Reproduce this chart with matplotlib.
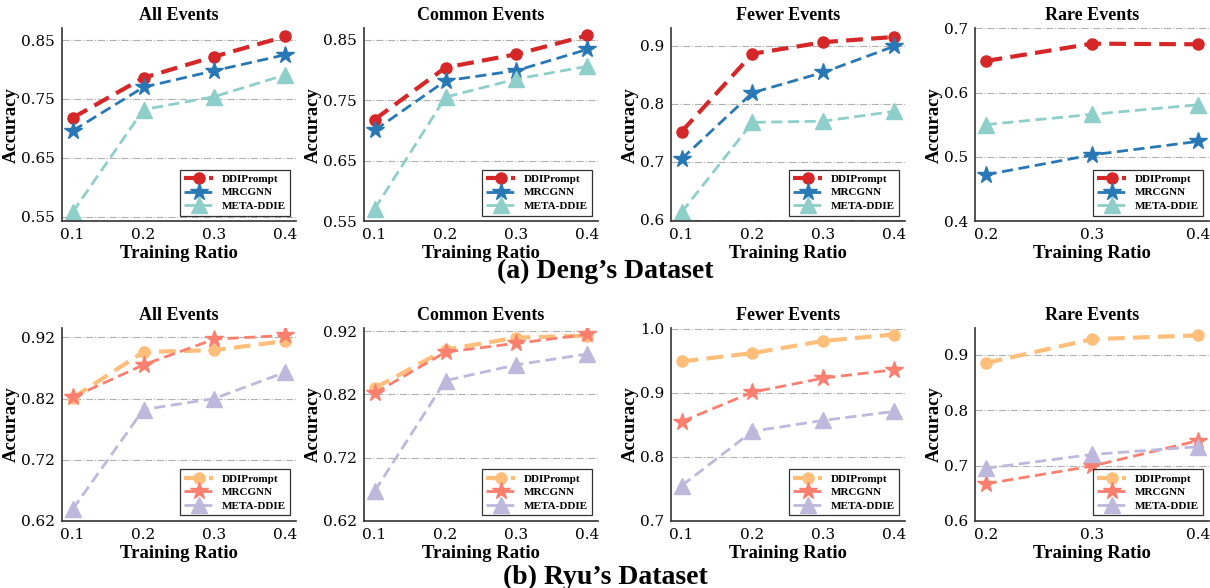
import matplotlib
matplotlib.use("Agg")
import matplotlib.pyplot as plt

# datos
ratios = [0.1, 0.2, 0.3, 0.4]
ratios_rare = [0.2, 0.3, 0.4]
titles = ["All Events", "Common Events", "Fewer Events", "Rare Events"]
methods = ["DDIPrompt", "MRCGNN", "META-DDIE"]

# Deng's dataset
deng_ddiprompt = [[0.718, 0.786, 0.822, 0.856],
                  [0.718, 0.804, 0.826, 0.857],
                  [0.752, 0.886, 0.906, 0.915],
                  [0.649, 0.676, 0.675]]
deng_mrcgnn = [[0.696, 0.770, 0.798, 0.825],
               [0.700, 0.782, 0.799, 0.834],
               [0.705, 0.819, 0.854, 0.899],
               [0.472, 0.503, 0.524]]
deng_meta = [[0.558, 0.732, 0.754, 0.791],
             [0.570, 0.755, 0.785, 0.806],
             [0.613, 0.768, 0.770, 0.787],
             [0.550, 0.566, 0.581]]

# Ryu's dataset
ryu_ddiprompt = [[0.821, 0.896, 0.899, 0.914],
                 [0.830, 0.891, 0.910, 0.913],
                 [0.949, 0.962, 0.981, 0.991],
                 [0.885, 0.928, 0.935]]
ryu_mrcgnn = [[0.822, 0.875, 0.917, 0.923],
              [0.822, 0.887, 0.901, 0.915],
              [0.855, 0.901, 0.923, 0.936],
              [0.667, 0.699, 0.745]]
ryu_meta = [[0.639, 0.802, 0.820, 0.863],
            [0.667, 0.842, 0.867, 0.884],
            [0.755, 0.840, 0.857, 0.871],
            [0.695, 0.720, 0.734]]

deng_yticks = [[0.55, 0.65, 0.75, 0.85], [0.55, 0.65, 0.75, 0.85],
               [0.6, 0.7, 0.8, 0.9], [0.4, 0.5, 0.6, 0.7]]
ryu_yticks = [[0.62, 0.72, 0.82, 0.92], [0.62, 0.72, 0.82, 0.92],
              [0.7, 0.8, 0.9, 1.0], [0.6, 0.7, 0.8, 0.9]]
deng_ylim = [(0.543, 0.870), (0.55, 0.869), (0.598, 0.930), (0.4, 0.7)]
ryu_ylim = [(0.62, 0.935), (0.62, 0.925), (0.7, 1.001), (0.6, 0.948)]

deng_colors = ["#D62728", "#2878B5", "#8ECFC9"]
ryu_colors = ["#FFBE7A", "#FA7F6F", "#BEB8DC"]

plt.rcParams['font.family'] = ['Liberation Serif', 'DejaVu Serif']

fig = plt.figure(figsize=(12.1, 5.88), dpi=100)

lefts = [0.0512, 0.3008, 0.5545, 0.8058]
width = 0.1934
row_bottoms = [0.624, 0.114]
height = 0.328


def panel(ax, i, ddi, mrc, meta, colors, yticks, ylim, xs):
    ax.plot(xs, ddi, color=colors[0], linestyle=(0, (4, 2)), lw=3,
            marker="o", markersize=8, label=methods[0])
    ax.plot(xs, mrc, color=colors[1], linestyle=(0, (4, 2)), lw=2,
            marker="*", markersize=13, label=methods[1])
    ax.plot(xs, meta, color=colors[2], linestyle=(0, (4, 2)), lw=2,
            marker="^", markersize=11, label=methods[2])
    ax.set_ylim(*ylim)
    ax.set_yticks(yticks)
    ax.set_yticklabels(["%g" % t if len(str(t)) > 3 else "%.1f" % t for t in yticks])
    ax.set_xticks(xs)
    ax.set_xticklabels(["%.1f" % x for x in xs])
    if len(xs) == 4:
        ax.set_xlim(0.085, 0.415)
    else:
        ax.set_xlim(0.19, 0.41)
    ax.grid(axis="y", linestyle="-.", color="#b0b0b0", lw=0.8)
    ax.set_axisbelow(True)
    for s in ["top", "right"]:
        ax.spines[s].set_visible(False)
    for s in ["left", "bottom"]:
        ax.spines[s].set_color("#333333")
        ax.spines[s].set_linewidth(1.2)
    ax.tick_params(length=0, pad=5)
    for lab in ax.get_xticklabels() + ax.get_yticklabels():
        lab.set_fontfamily("DejaVu Serif")
        lab.set_fontsize(11)
    ax.set_title(titles[i], fontsize=13, fontweight="bold", pad=6)
    ax.set_xlabel("Training Ratio", fontsize=13.5, fontweight="bold", labelpad=2)
    ax.set_ylabel("Accuracy", fontsize=13.5, fontweight="bold", labelpad=1)
    leg = ax.legend(loc="lower right", prop={"weight": "bold", "size": 8},
                    frameon=True, fancybox=False, edgecolor="black",
                    handlelength=2.6, borderpad=0.4, labelspacing=0.35)
    leg.get_frame().set_linewidth(0.9)


for i in range(4):
    xs = ratios if i < 3 else ratios_rare
    ax = fig.add_axes([lefts[i], row_bottoms[0], width, height])
    panel(ax, i, deng_ddiprompt[i], deng_mrcgnn[i], deng_meta[i],
          deng_colors, deng_yticks[i], deng_ylim[i], xs)
    ax2 = fig.add_axes([lefts[i], row_bottoms[1], width, height])
    panel(ax2, i, ryu_ddiprompt[i], ryu_mrcgnn[i], ryu_meta[i],
          ryu_colors, ryu_yticks[i], ryu_ylim[i], xs)

fig.text(0.5, 1 - 271 / 588, "(a) Deng\u2019s Dataset", ha="center", va="center",
         fontsize=20, fontweight="bold")
fig.text(0.5, 1 - 577 / 588, "(b) Ryu\u2019s Dataset", ha="center", va="center",
         fontsize=20, fontweight="bold")

fig.savefig("out.png", dpi=100)
